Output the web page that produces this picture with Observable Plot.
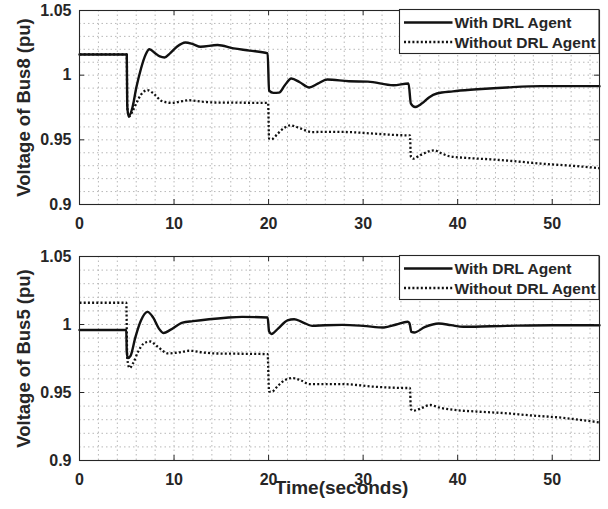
<!DOCTYPE html>
<html>
<head>
<meta charset="utf-8">
<script src="https://cdn.jsdelivr.net/npm/d3@7"></script>
<script src="https://cdn.jsdelivr.net/npm/@observablehq/plot@0.6"></script>
<style>
  html, body { margin: 0; padding: 0; background: #fff; }
  #wrap { position: relative; width: 608px; height: 509px; overflow: hidden; }
  #wrap svg.plot { display: block; }
  .legend { position: absolute; left: 0; top: 0; }
</style>
</head>
<body>
<div id="wrap"></div>
<script>
// ---------- data ----------
const seriesNames = ["With DRL Agent", "Without DRL Agent"];
const xTicks = [0, 10, 20, 30, 40, 50];
const yTicks = [0.9, 0.95, 1, 1.05];
const xLabel = "Time(seconds)";
const yLabels = ["Voltage of Bus8 (pu)", "Voltage of Bus5 (pu)"];

// Bus 8, with DRL agent
const bus8WithT = [0, 5.0, 5.05, 5.2, 5.6, 6.0, 6.5, 7.0, 7.4, 8.0, 8.5, 9.0, 9.6, 10.3, 11.2, 12.0, 12.8, 14.6, 16.3, 18.0, 19.9, 20.05, 20.5, 21.1, 21.7, 22.4, 23.3, 24.3, 25.2, 26.2, 28.5, 30.5, 33.2, 34.8, 35.05, 35.5, 36.2, 37.0, 37.8, 39.5, 41.7, 45.2, 48.8, 55];
const bus8WithV = [1.016, 1.016, 0.976, 0.968, 0.975, 0.990, 1.005, 1.016, 1.020, 1.017, 1.0145, 1.0137, 1.017, 1.022, 1.0253, 1.024, 1.022, 1.0233, 1.0207, 1.019, 1.0168, 0.988, 0.9863, 0.9865, 0.992, 0.9974, 0.9945, 0.9905, 0.9935, 0.9967, 0.9953, 0.995, 0.9922, 0.9936, 0.978, 0.9754, 0.978, 0.983, 0.9858, 0.9875, 0.9889, 0.9905, 0.9915, 0.9915];

// Bus 8, without DRL agent
const bus8WithoutT = [0, 5.0, 5.05, 5.25, 5.6, 6.0, 6.5, 7.2, 7.8, 8.7, 9.8, 10.6, 11.6, 13.0, 14.6, 17.0, 19.95, 20.05, 20.3, 21.0, 21.6, 22.3, 23.3, 24.6, 26.0, 28.5, 31.1, 34.7, 34.95, 35.05, 35.3, 36.0, 37.5, 38.3, 39.2, 41.0, 43.5, 46.0, 48.8, 52.0, 55];
const bus8WithoutV = [1.016, 1.016, 0.975, 0.968, 0.972, 0.978, 0.985, 0.9884, 0.986, 0.980, 0.9785, 0.9795, 0.9806, 0.9795, 0.9788, 0.9787, 0.9785, 0.951, 0.9505, 0.955, 0.959, 0.9612, 0.959, 0.956, 0.9562, 0.956, 0.9548, 0.9535, 0.9535, 0.937, 0.9354, 0.938, 0.9419, 0.9395, 0.9372, 0.936, 0.9349, 0.9335, 0.9316, 0.930, 0.9281];

// Bus 5, with DRL agent
const bus5WithT = [0, 4.95, 5.0, 5.1, 5.4, 5.9, 6.5, 7.2, 7.8, 8.4, 8.9, 9.6, 10.9, 12.0, 13.7, 15.5, 17.2, 19.9, 20.05, 20.3, 21.0, 22.0, 22.7, 23.5, 24.6, 26.0, 27.8, 30.0, 32.2, 33.5, 34.7, 34.9, 35.1, 35.4, 36.5, 38.0, 39.3, 40.6, 45.2, 50.0, 55];
const bus5WithV = [0.996, 0.996, 0.980, 0.9753, 0.977, 0.9904, 1.003, 1.0093, 1.005, 0.997, 0.9937, 0.996, 1.0014, 1.0025, 1.0039, 1.005, 1.0056, 1.0051, 0.995, 0.993, 0.997, 1.003, 1.0039, 1.002, 0.999, 0.9995, 0.9997, 0.999, 0.9978, 1.000, 1.002, 1.001, 0.9945, 0.9941, 0.998, 1.0007, 0.9995, 0.9983, 0.999, 0.9995, 0.9995];

// Bus 5, without DRL agent
const bus5WithoutT = [0, 4.95, 5.05, 5.3, 5.7, 6.2, 6.8, 7.5, 8.2, 9.4, 10.5, 11.7, 13.0, 14.4, 17.0, 19.9, 20.05, 20.3, 21.0, 21.7, 22.5, 23.4, 24.3, 26.0, 27.8, 31.1, 34.7, 34.95, 35.05, 35.3, 36.0, 37.1, 38.0, 39.6, 42.0, 45.2, 48.0, 50.5, 55];
const bus5WithoutV = [1.016, 1.016, 0.975, 0.968, 0.972, 0.980, 0.986, 0.9875, 0.984, 0.9787, 0.9795, 0.9807, 0.9795, 0.9787, 0.9785, 0.9782, 0.9508, 0.9505, 0.955, 0.959, 0.9606, 0.959, 0.9562, 0.9562, 0.9562, 0.9543, 0.9533, 0.9533, 0.938, 0.9366, 0.938, 0.9408, 0.939, 0.9372, 0.936, 0.9347, 0.933, 0.9318, 0.928];

// ---------- helpers ----------
const toRows = (T, V) => T.map((t, i) => ({t, v: V[i]}));
const FONT = "'Liberation Sans', Arial, Helvetica, sans-serif";
const INK = "#262626";
const DOTS = "2,2.2";
const xMinor = d3.range(0, 55.001, 2);
const yMinor = d3.range(0, 16).map(i => +(0.9 + i * 0.01).toFixed(2));

function panel({height, marginTop, marginBottom, withRows, withoutRows, yLabel, showXLabel}) {
  const marginLeft = 79, marginRight = 9, width = 608;
  const plotH = height - marginTop - marginBottom;
  const plotW = width - marginLeft - marginRight;
  const tk = 5;
  const marks = [
    Plot.gridX(xMinor, {stroke: "#b8b8b8", strokeOpacity: 1, strokeDasharray: "1.5,3"}),
    Plot.gridY(yMinor, {stroke: "#b8b8b8", strokeOpacity: 1, strokeDasharray: "1.5,3"}),
    Plot.line(withoutRows, {x: "t", y: "v", stroke: "#111", strokeWidth: 2.3, strokeDasharray: DOTS, strokeLinecap: "butt", strokeLinejoin: "miter", curve: "monotone-x"}),
    Plot.line(withRows, {x: "t", y: "v", stroke: "#111", strokeWidth: 2.4, curve: "monotone-x"}),
    // inward ticks on all four sides
    Plot.tickX(xTicks, {x: d => d, stroke: INK, insetTop: plotH - tk}),
    Plot.tickX(xTicks, {x: d => d, stroke: INK, insetBottom: plotH - tk}),
    Plot.tickY(yTicks, {y: d => d, stroke: INK, insetRight: plotW - tk}),
    Plot.tickY(yTicks, {y: d => d, stroke: INK, insetLeft: plotW - tk}),
    Plot.frame({stroke: INK, strokeWidth: 1.1}),
    Plot.axisX(xTicks, {tickSize: 0, tickPadding: 13, tickFormat: d => String(d), label: null, fontSize: 16, fontWeight: "bold", fill: INK}),
    Plot.axisY(yTicks, {tickSize: 0, tickPadding: 8, tickFormat: d => String(d), label: null, fontSize: 16, fontWeight: "bold", fill: INK}),
    Plot.text([yLabel], {text: d => d, frameAnchor: "left", textAnchor: "middle", rotate: -90, dx: -55, fontSize: 18.5, fontWeight: "bold", fill: INK})
  ];
  if (showXLabel) {
    marks.push(Plot.text([xLabel], {text: d => d, frameAnchor: "bottom", textAnchor: "middle", dy: 33, dx: 2, fontSize: 19, fontWeight: "bold", fill: INK}));
  }
  const svg = Plot.plot({
    width, height, marginLeft, marginRight, marginTop, marginBottom,
    x: {domain: [0, 55], axis: null},
    y: {domain: [0.9, 1.05], axis: null},
    style: {fontFamily: FONT, background: "transparent", overflow: "visible", color: INK},
    marks
  });
  svg.classList.add("plot");
  return svg;
}

const wrap = d3.select("#wrap");
wrap.node().appendChild(panel({
  height: 240, marginTop: 10, marginBottom: 36,
  withRows: toRows(bus8WithT, bus8WithV),
  withoutRows: toRows(bus8WithoutT, bus8WithoutV),
  yLabel: yLabels[0], showXLabel: false
}));
wrap.node().appendChild(panel({
  height: 269, marginTop: 16, marginBottom: 49,
  withRows: toRows(bus5WithT, bus5WithV),
  withoutRows: toRows(bus5WithoutT, bus5WithoutV),
  yLabel: yLabels[1], showXLabel: true
}));

// ---------- legends (overlay) ----------
const leg = wrap.append("svg").attr("class", "legend").attr("width", 608).attr("height", 509)
  .style("font-family", FONT);
[9.5, 255.5].forEach(top => {
  const g = leg.append("g").attr("transform", `translate(399.5,${top})`);
  g.append("rect").attr("width", 199.5).attr("height", 44).attr("fill", "#fff").attr("stroke", INK).attr("stroke-width", 1.1);
  seriesNames.forEach((name, i) => {
    const y = 13 + i * 19.5;
    g.append("line").attr("x1", 4.5).attr("x2", 53).attr("y1", y).attr("y2", y)
      .attr("stroke", "#111").attr("stroke-width", i === 0 ? 2.4 : 2.3)
      .attr("stroke-linecap", "butt")
      .attr("stroke-dasharray", i === 0 ? null : DOTS);
    g.append("text").attr("x", 55).attr("y", y + 5.5).text(name)
      .attr("font-size", 15.5).attr("font-weight", "bold").attr("fill", INK);
  });
});
</script>
</body>
</html>
